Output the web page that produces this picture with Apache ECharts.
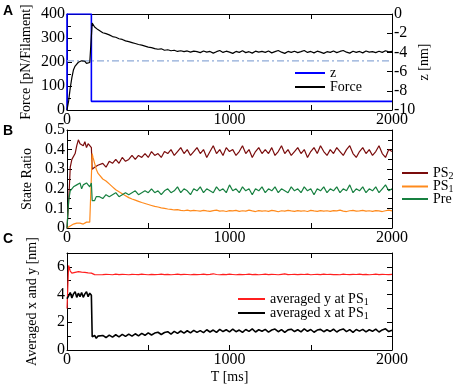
<!DOCTYPE html>
<html>
<head>
<meta charset="utf-8">
<script src="https://cdn.jsdelivr.net/npm/echarts@6/dist/echarts.min.js"></script>
<style>
  html, body { margin: 0; padding: 0; background: #fff; }
  #chart { width: 453px; height: 390px; }
</style>
</head>
<body>
<div id="chart"></div>
<script>
// time axis [ms]
const T = [0, 10, 20, 30, 40, 50, 60, 70, 80, 90, 100, 110, 120, 130, 140, 150, 155, 160, 170, 180, 190, 200,
  220, 240, 260, 280, 300, 320, 340, 360, 380, 400,
  420, 440, 460, 480, 500, 520, 540, 560, 580, 600,
  620, 640, 660, 680, 700, 720, 740, 760, 780, 800,
  820, 840, 860, 880, 900, 920, 940, 960, 980, 1000,
  1020, 1040, 1060, 1080, 1100, 1120, 1140, 1160, 1180, 1200,
  1220, 1240, 1260, 1280, 1300, 1320, 1340, 1360, 1380, 1400,
  1420, 1440, 1460, 1480, 1500, 1520, 1540, 1560, 1580, 1600,
  1620, 1640, 1660, 1680, 1700, 1720, 1740, 1760, 1780, 1800,
  1820, 1840, 1860, 1880, 1900, 1920, 1940, 1960, 1980, 2000];

// panel A
const force = [0, 38, 92, 135, 168, 183, 190, 199, 195, 205, 197, 203, 194, 202, 198, 204, 362, 354, 346, 339, 335, 329,
  322, 318, 313, 306, 303, 297, 294, 288, 285, 281,
  277, 273, 270, 266, 262, 260, 256, 253, 255, 249,
  251, 247, 249, 244, 247, 243, 246, 241, 245, 243,
  239, 246, 241, 244, 237, 243, 248, 240, 245, 241,
  236, 244, 240, 247, 239, 243, 237, 245, 241, 244,
  240, 246, 238, 243, 248, 241, 236, 244, 240, 245,
  239, 243, 248, 240, 244, 238, 245, 241, 236, 243,
  240, 246, 239, 244, 248, 241, 237, 245, 240, 244,
  238, 246, 241, 243, 239, 245, 240, 247, 242, 244];
const zT = [0, 0, 150, 150, 2000];
const zV = [-10, 0, 0, -9.1, -9.1];
const forceRef = 205;

// panel B
const ps2 = [0, 0.13, 0.31, 0.35, 0.36, 0.38, 0.42, 0.45, 0.43, 0.44, 0.42, 0.44, 0.41, 0.43, 0.42, 0.41, 0.30, 0.29, 0.31, 0.30, 0.32, 0.31,
  0.33, 0.31, 0.34, 0.33, 0.35, 0.33, 0.36, 0.34, 0.35, 0.37,
  0.35, 0.37, 0.36, 0.38, 0.36, 0.39, 0.37, 0.38, 0.36, 0.39,
  0.38, 0.40, 0.37, 0.39, 0.41, 0.38, 0.40, 0.37, 0.39, 0.41,
  0.38, 0.40, 0.36, 0.39, 0.42, 0.38, 0.40, 0.37, 0.41, 0.39,
  0.40, 0.37, 0.39, 0.42, 0.38, 0.40, 0.36, 0.39, 0.41, 0.38,
  0.40, 0.38, 0.41, 0.37, 0.39, 0.42, 0.38, 0.40, 0.37, 0.39,
  0.41, 0.38, 0.40, 0.36, 0.39, 0.41, 0.38, 0.42, 0.39, 0.37,
  0.40, 0.38, 0.41, 0.39, 0.37, 0.40, 0.42, 0.38, 0.36, 0.39,
  0.41, 0.38, 0.40, 0.37, 0.39, 0.42, 0.38, 0.36, 0.40, 0.39];
const ps1 = [0, 0.005, 0.01, 0.015, 0.02, 0.02, 0.025, 0.02, 0.025, 0.03, 0.02, 0.025, 0.03, 0.025, 0.03, 0.03, 0.38, 0.36, 0.33, 0.30, 0.28, 0.27,
  0.25, 0.24, 0.225, 0.21, 0.195, 0.185, 0.175, 0.165, 0.155, 0.148,
  0.142, 0.136, 0.13, 0.125, 0.12, 0.115, 0.11, 0.107, 0.103, 0.1,
  0.097, 0.095, 0.092, 0.094, 0.09, 0.088, 0.091, 0.087, 0.09, 0.088,
  0.086, 0.09, 0.087, 0.085, 0.089, 0.091, 0.086, 0.088, 0.084, 0.089,
  0.087, 0.09, 0.085, 0.088, 0.086, 0.091, 0.087, 0.084, 0.089, 0.086,
  0.088, 0.085, 0.09, 0.087, 0.083, 0.088, 0.086, 0.09, 0.087, 0.085,
  0.089, 0.086, 0.088, 0.084, 0.09, 0.087, 0.085, 0.089, 0.086, 0.088,
  0.085, 0.089, 0.087, 0.091, 0.086, 0.084, 0.088, 0.09, 0.086, 0.087,
  0.09, 0.086, 0.088, 0.085, 0.089, 0.087, 0.084, 0.088, 0.091, 0.087];
const pre = [0, 0.14, 0.19, 0.20, 0.21, 0.20, 0.22, 0.21, 0.23, 0.20, 0.22, 0.21, 0.23, 0.22, 0.21, 0.23, 0.14, 0.15, 0.14, 0.16, 0.15, 0.16,
  0.15, 0.17, 0.16, 0.17, 0.18, 0.16, 0.17, 0.18, 0.17, 0.18,
  0.19, 0.17, 0.18, 0.19, 0.18, 0.20, 0.18, 0.19, 0.17, 0.19,
  0.20, 0.18, 0.19, 0.21, 0.18, 0.20, 0.19, 0.17, 0.20, 0.19,
  0.21, 0.18, 0.20, 0.19, 0.18, 0.21, 0.19, 0.20, 0.18, 0.22,
  0.19, 0.20, 0.18, 0.21, 0.19, 0.20, 0.17, 0.20, 0.19, 0.21,
  0.18, 0.20, 0.19, 0.21, 0.18, 0.20, 0.19, 0.18, 0.21, 0.19,
  0.20, 0.18, 0.21, 0.19, 0.20, 0.17, 0.20, 0.19, 0.21, 0.18,
  0.20, 0.19, 0.21, 0.18, 0.20, 0.19, 0.22, 0.18, 0.20, 0.19,
  0.21, 0.18, 0.20, 0.19, 0.21, 0.18, 0.20, 0.22, 0.19, 0.20];

// panel C
const avgY = [3.0, 6.1, 5.7, 5.55, 5.65, 5.6, 5.55, 5.65, 5.58, 5.62, 5.55, 5.6, 5.65, 5.57, 5.6, 5.55, 5.45, 5.47, 5.44, 5.46, 5.43, 5.45,
  5.44, 5.46, 5.45, 5.43, 5.47, 5.44, 5.46, 5.45, 5.43, 5.46,
  5.45, 5.44, 5.47, 5.45, 5.43, 5.46, 5.44, 5.45, 5.47, 5.44,
  5.46, 5.43, 5.45, 5.47, 5.44, 5.46, 5.45, 5.43, 5.46, 5.44,
  5.45, 5.47, 5.44, 5.46, 5.5, 5.45, 5.43, 5.46, 5.44, 5.47,
  5.45, 5.43, 5.46, 5.44, 5.45, 5.48, 5.44, 5.46, 5.43, 5.45,
  5.47, 5.44, 5.46, 5.45, 5.43, 5.46, 5.49, 5.44, 5.45, 5.46,
  5.44, 5.46, 5.45, 5.47, 5.43, 5.45, 5.46, 5.44, 5.48, 5.45,
  5.46, 5.44, 5.45, 5.43, 5.47, 5.45, 5.44, 5.46, 5.45, 5.47,
  5.44, 5.46, 5.43, 5.45, 5.47, 5.44, 5.46, 5.45, 5.44, 5.46];
const avgX = [3.7, 3.9, 4.15, 3.75, 4.05, 4.2, 3.8, 4.1, 3.85, 4.15, 3.8, 4.05, 4.2, 3.85, 4.1, 3.95, 0.95, 0.85, 1.05, 0.85, 1.0, 0.9,
  1.05, 0.9, 1.07, 0.93, 1.1, 0.95, 1.13, 0.98, 1.15, 1.0,
  1.17, 1.02, 1.2, 1.06, 1.24, 1.08, 1.22, 1.28, 1.12, 1.26,
  1.32, 1.15, 1.34, 1.2, 1.37, 1.22, 1.39, 1.24, 1.42, 1.27,
  1.4, 1.25, 1.46, 1.3, 1.44, 1.27, 1.49, 1.33, 1.46, 1.31,
  1.5, 1.32, 1.44, 1.27, 1.48, 1.34, 1.52, 1.3, 1.46, 1.35,
  1.49, 1.29, 1.44, 1.51, 1.32, 1.47, 1.27, 1.45, 1.5, 1.33,
  1.46, 1.31, 1.52, 1.35, 1.48, 1.28, 1.44, 1.49, 1.32, 1.46,
  1.34, 1.5, 1.3, 1.45, 1.52, 1.33, 1.47, 1.27, 1.48, 1.36,
  1.49, 1.31, 1.46, 1.35, 1.51, 1.3, 1.45, 1.53, 1.33, 1.42];

const serif = "Liberation Serif";
const pair = (xs, ys) => xs.map((x, i) => [x, ys[i]]);
const plain = (v) => String(v);

// x axis, bottom or top (top one only carries the ticks)
function xAx(g, top, name) {
  return {
    type: "value", gridIndex: g, position: top ? "top" : "bottom",
    min: 0, max: 2000, interval: 1000,
    name: name || "", nameLocation: "middle", nameGap: 20, nameMoveOverlap: false,
    nameTextStyle: { fontFamily: serif, fontSize: 14, color: "#000" },
    axisLine: { show: true, onZero: false, lineStyle: { color: "#000", width: 1 } },
    axisTick: { show: true, inside: true, length: 5, lineStyle: { color: "#000" } },
    minorTick: { show: true, splitNumber: 2, length: 5, lineStyle: { color: "#000" } },
    axisLabel: { show: !top, fontFamily: serif, fontSize: 16, color: "#000", margin: 2, formatter: plain },
    splitLine: { show: false },
  };
}
// y axis, left or right
function yAx(g, right, min, max, interval, opt) {
  opt = opt || {};
  return {
    type: "value", gridIndex: g, position: right ? "right" : "left",
    min: min, max: max, interval: interval,
    name: opt.name || "", nameLocation: "middle", nameGap: opt.gap || 30, nameRotate: 90,
    nameMoveOverlap: false,
    nameTextStyle: { fontFamily: serif, fontSize: 14, color: "#000" },
    axisLine: { show: true, onZero: false, lineStyle: { color: "#000", width: 1 } },
    axisTick: { show: true, inside: true, length: 5, lineStyle: { color: "#000" } },
    minorTick: { show: !!opt.minor, splitNumber: 2, length: 4, lineStyle: { color: "#000" } },
    axisLabel: {
      show: !!opt.labels, fontFamily: serif, fontSize: 16, color: "#000", margin: 2,
      showMaxLabel: opt.hideMax ? false : null, formatter: plain,
    },
    splitLine: { show: false },
  };
}

function line(name, x, y, xi, yi, color, width, dash) {
  return {
    name: name, type: "line", xAxisIndex: xi, yAxisIndex: yi,
    data: pair(x, y), showSymbol: false, symbol: "none", animation: false,
    color: color, lineStyle: { color: color, width: width, type: dash || "solid" },
  };
}

const legendText = { fontFamily: serif, fontSize: 14, color: "#000", lineHeight: 14 };
const subRich = {
  m: { fontFamily: serif, fontSize: 14, color: "#000", lineHeight: 14 },
  s: { fontFamily: serif, fontSize: 10, color: "#000", lineHeight: 10, padding: [6, 0, 0, 0] },
};
const legendNames = {
  PS2: "{m|PS}{s|2}", PS1: "{m|PS}{s|1}", Pre: "{m|Pre}",
  avgY: "{m|averaged y at PS}{s|1}", avgX: "{m|averaged x at PS}{s|1}",
};

const chart = echarts.init(document.getElementById("chart"));
chart.setOption({
  animation: false,
  backgroundColor: "#fff",
  textStyle: { fontFamily: serif },
  grid: [
    { left: 67, top: 14, width: 325, height: 96 },
    { left: 67, top: 130, width: 325, height: 98 },
    { left: 67, top: 253, width: 325, height: 97 },
  ],
  xAxis: [xAx(0, false), xAx(0, true), xAx(1, false), xAx(1, true), xAx(2, false, "T [ms]"), xAx(2, true)],
  yAxis: [
    yAx(0, false, 0, 400, 100, { labels: true, minor: true, name: "Force [pN/Filament]", gap: 34 }),
    yAx(0, true, -10, 0, 2, { labels: true, name: "z [nm]", gap: 25 }),
    yAx(1, false, 0, 0.5, 0.1, { labels: true, minor: true, name: "State Ratio", gap: 33 }),
    yAx(1, true, 0, 0.5, 0.1, { minor: true }),
    yAx(2, false, 0, 7, 2, { labels: true, minor: true, hideMax: true, name: "Averaged x and y [nm]", gap: 28 }),
    yAx(2, true, 0, 7, 1, {}),
  ],
  legend: [
    {
      left: 290, top: 61, orient: "vertical", data: ["z", "Force"], icon: "rect",
      itemWidth: 30, itemHeight: 2, itemGap: 0, textStyle: legendText,
    },
    {
      left: 397, top: 160, orient: "vertical", data: ["PS2", "PS1", "Pre"], icon: "rect",
      itemWidth: 26, itemHeight: 2, itemGap: -2.5,
      formatter: (n) => legendNames[n], textStyle: { rich: subRich },
    },
    {
      left: 233, top: 286, orient: "vertical", data: ["avgY", "avgX"], icon: "rect",
      itemWidth: 27, itemHeight: 2, itemGap: -2,
      formatter: (n) => legendNames[n], textStyle: { rich: subRich },
    },
  ],
  graphic: [
    { type: "text", left: 3, top: 4, style: { text: "A", fontFamily: "Liberation Sans", fontSize: 14, fontWeight: "bold", fill: "#000" } },
    { type: "text", left: 3, top: 124, style: { text: "B", fontFamily: "Liberation Sans", fontSize: 14, fontWeight: "bold", fill: "#000" } },
    { type: "text", left: 3, top: 232, style: { text: "C", fontFamily: "Liberation Sans", fontSize: 14, fontWeight: "bold", fill: "#000" } },
  ],
  series: [
    line("z", zT, zV, 0, 1, "#0000ff", 1.6),
    line("ref", [0, 2000], [forceRef, forceRef], 0, 0, "#8eaad8", 1.2, [7, 3, 2, 3]),
    line("Force", T, force, 0, 0, "#000000", 1.2),
    line("PS2", T, ps2, 2, 2, "#7a0c0c", 1.2),
    line("PS1", T, ps1, 2, 2, "#ff8a1c", 1.2),
    line("Pre", T, pre, 2, 2, "#178040", 1.2),
    line("avgY", T, avgY, 4, 4, "#ff1f1f", 1.2),
    line("avgX", T, avgX, 4, 4, "#000000", 1.6),
  ],
});
</script>
</body>
</html>
